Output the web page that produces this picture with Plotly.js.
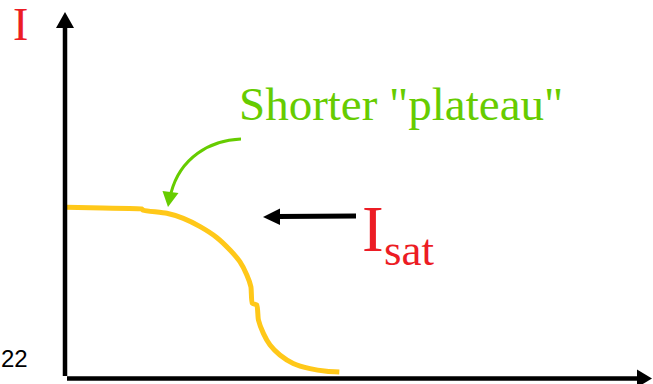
<!DOCTYPE html>
<html>
<head>
<meta charset="utf-8">
<script src="https://cdn.plot.ly/plotly-3.0.1.min.js"></script>
<style>html,body{margin:0;padding:0;background:#fff;}#chart{width:653px;height:384px;}</style>
</head>
<body>
<div id="chart"></div>
<script>
// Schematic I–V curve (arbitrary units): current I versus voltage
const curveX = [0.03, 1.30, 2.64, 2.70, 3.51, 4.08, 4.66, 5.23, 5.69, 6.03, 6.27, 6.41, 6.46, 6.61, 6.67, 6.84, 7.07, 7.41, 7.87, 8.45, 9.02, 9.46];
const curveY = [9.48, 9.44, 9.39, 9.32, 9.15, 8.87, 8.41, 7.81, 7.11, 6.46, 5.72, 5.07, 4.15, 4.06, 3.22, 2.48, 1.83, 1.28, 0.81, 0.52, 0.37, 0.33];

const axisLabelY = "I";
const plateauLabel = 'Shorter "plateau"';
const isatMain = "I";
const isatSub = "sat";
const slideNumber = "22";

const W = 653, H = 384;
// pixel -> paper helpers (margins are zero, so paper spans the whole figure)
const px = v => v / W;
const py = v => 1 - v / H;
const pt = (x, y) => px(x).toFixed(5) + ',' + py(y).toFixed(5);

// data axis ranges: origin at pixel (65,378); 29 px per x unit, 18 px per y unit
const xRange = [-65 / 29, (W - 65) / 29];
const yRange = [(378 - H) / 18, 378 / 18];

const black = '#000000';
const green = 'rgb(102,204,0)';
const red = 'rgb(236,28,36)';
const yellow = 'rgb(255,200,25)';

const shapes = [
  // y axis line + arrow head
  {type: 'line', xref: 'paper', yref: 'paper', x0: px(65), y0: py(376), x1: px(65), y1: py(26), line: {color: black, width: 4.5}},
  {type: 'path', xref: 'paper', yref: 'paper', path: 'M' + pt(56, 28) + 'L' + pt(74, 28) + 'L' + pt(65, 12) + 'Z', fillcolor: black, line: {color: black, width: 0}},
  // x axis line + arrow head
  {type: 'line', xref: 'paper', yref: 'paper', x0: px(67), y0: py(378.5), x1: px(640), y1: py(378.5), line: {color: black, width: 4.5}},
  {type: 'path', xref: 'paper', yref: 'paper', path: 'M' + pt(637, 369.5) + 'L' + pt(637, 387.5) + 'L' + pt(652, 378.5) + 'Z', fillcolor: black, line: {color: black, width: 0}},
  // black arrow pointing to Isat level
  {type: 'line', xref: 'paper', yref: 'paper', x0: px(356), y0: py(216), x1: px(277), y1: py(216.5), line: {color: black, width: 5}},
  {type: 'path', xref: 'paper', yref: 'paper', path: 'M' + pt(280, 208.5) + 'L' + pt(280, 225) + 'L' + pt(263, 217) + 'Z', fillcolor: black, line: {color: black, width: 0}},
  // green curved arrow
  {type: 'path', xref: 'paper', yref: 'paper', path: 'M' + pt(241, 139) + 'C' + pt(210, 140) + ' ' + pt(180, 158) + ' ' + pt(171, 193), line: {color: green, width: 3}},
  {type: 'path', xref: 'paper', yref: 'paper', path: 'M' + pt(162.5, 191) + 'L' + pt(178.5, 193) + 'L' + pt(168, 207) + 'Z', fillcolor: green, line: {color: green, width: 0}}
];

const serif = '"Liberation Serif", "Times New Roman", serif';
const annotations = [
  {xref: 'paper', yref: 'paper', x: px(20), y: py(24), xanchor: 'center', yanchor: 'middle', showarrow: false, text: axisLabelY, font: {family: serif, size: 46, color: red}},
  {xref: 'paper', yref: 'paper', x: px(401), y: py(104), xanchor: 'center', yanchor: 'middle', showarrow: false, text: plateauLabel, font: {family: serif, size: 47, color: green}},
  {xref: 'paper', yref: 'paper', x: px(373), y: py(228.5), xanchor: 'center', yanchor: 'middle', showarrow: false, text: isatMain, font: {family: serif, size: 65, color: red}},
  {xref: 'paper', yref: 'paper', x: px(408.5), y: py(250), xanchor: 'center', yanchor: 'middle', showarrow: false, text: isatSub, font: {family: serif, size: 45, color: red}},
  {xref: 'paper', yref: 'paper', x: px(0), y: py(358), xanchor: 'left', yanchor: 'middle', showarrow: false, borderpad: 0, text: slideNumber, font: {family: '"Liberation Sans", Arial, sans-serif', size: 24, color: black}}
];

const traces = [{
  x: curveX, y: curveY, type: 'scatter', mode: 'lines',
  line: {color: yellow, width: 5, shape: 'spline', smoothing: 0.6}, hoverinfo: 'skip'
}];

const layout = {
  width: W, height: H,
  margin: {l: 0, r: 0, t: 0, b: 0, pad: 0},
  paper_bgcolor: '#ffffff', plot_bgcolor: '#ffffff',
  showlegend: false,
  xaxis: {range: xRange, visible: false, fixedrange: true},
  yaxis: {range: yRange, visible: false, fixedrange: true},
  shapes: shapes,
  annotations: annotations
};

Plotly.newPlot('chart', traces, layout, {staticPlot: true, displayModeBar: false});
</script>
</body>
</html>
